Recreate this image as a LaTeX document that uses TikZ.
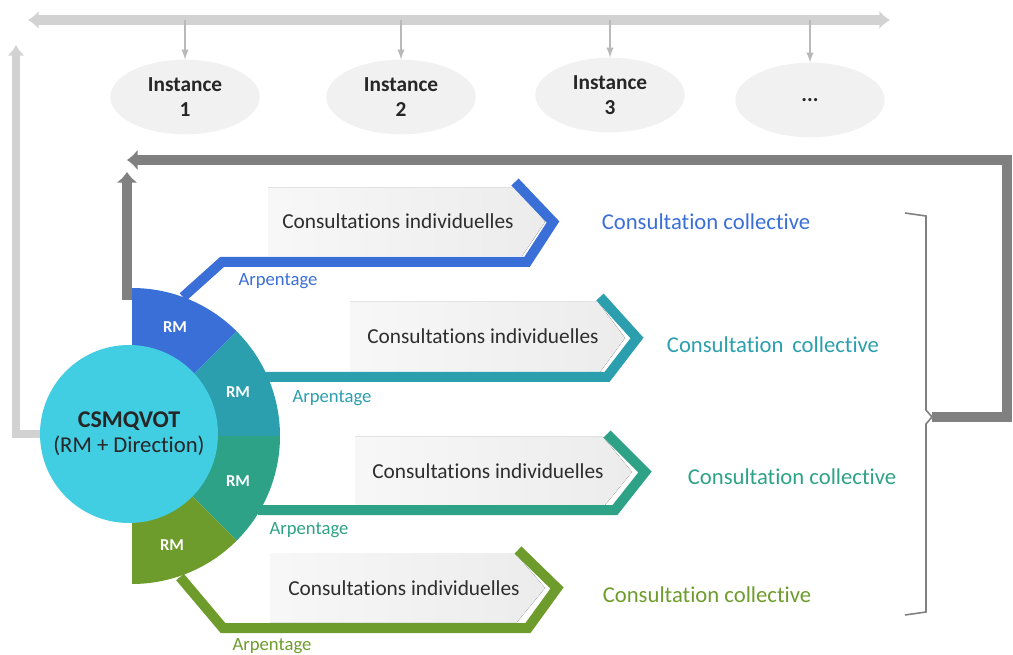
\documentclass[tikz,border=0pt]{standalone}
\usepackage{fontspec}
\setmainfont[Ligatures={NoCommon}]{Carlito}
\usetikzlibrary{positioning}
\usetikzlibrary{shapes.geometric}
\usetikzlibrary{arrows.meta}
\definecolor{lightbar}{HTML}{D2D2D2}
\definecolor{darkbar}{HTML}{808080}
\definecolor{csmcyan}{HTML}{41CDE2}
\definecolor{rmblue}{HTML}{3B6FD8}
\definecolor{rmteal}{HTML}{2B9FAE}
\definecolor{rmgreen}{HTML}{2EA287}
\definecolor{rmolive}{HTML}{6E9C2C}

\begin{document}
\begin{tikzpicture}[x=0.75pt, y=-0.75pt, style={align=center},
	inst/.style={ellipse, fill=gray!11, minimum width=112pt, minimum height=56pt, font=\fontsize{16}{19}\selectfont\bfseries, text=black!85},
	rmtext/.style={text=white, font=\fontsize{12.5}{15}\selectfont\bfseries},
	indiv/.style={text=black!82, font=\fontsize{16}{19}\selectfont},
	arp/.style={font=\fontsize{14}{16}\selectfont},
	coll/.style={font=\fontsize{17}{20}\selectfont},
	shadebox/.style={left color=gray!6, right color=gray!15},
	chev/.style={line width=7.5pt, miter limit=4},
	bar/.style={line width=7.5pt, -{Latex[length=8pt, width=16pt]}}]
	\useasboundingbox (0,0) rectangle (1013,655);

	% instances along the top
	\node[inst] (inst1) at (185,97) {Instance\\1};
	\node[inst] (inst2) at (401,97) {Instance\\2};
	\node[inst] (inst3) at (610,95) {Instance\\3};
	\node[inst] (inst4) at (810,100) {...};
	\coordinate (tl) at (28,20);
	\coordinate (tr) at (890,20);
	\draw[lightbar, line width=7.5pt, {Latex[length=8pt, width=14pt]}-{Latex[length=8pt, width=14pt]}] (tl) -- (tr);
	\foreach \i in {1,...,4}
		\draw[gray!55, line width=1.5pt, -latex] (inst\i.north |- tl) -- (inst\i.north);

	% feedback arrows
	\coordinate (brk) at (932,417);
	\coordinate (back) at (127,160);
	\coordinate (upl) at (16,45);
	\coordinate (fantop) at (127,300);
	\coordinate (upd) at (127,172);
	\draw[bar, darkbar] (brk) -- (1007,417) -- (1007,160) -- (back);
	\draw[bar, darkbar] (fantop) -- (upd);

	% gray boxes
	\fill[shadebox] (268,188) -- (520,188) -- (545,222) -- (522,256) -- (268,256) -- cycle;
	\fill[shadebox] (350,302) -- (598,302) -- (625,338) -- (600,372) -- (350,372) -- cycle;
	\fill[shadebox] (355,437) -- (603,437) -- (632,472) -- (605,505) -- (355,505) -- cycle;
	\fill[shadebox] (270,553) -- (515,553) -- (545,588) -- (517,622) -- (270,622) -- cycle;

	% chevron lines
	\draw[chev, rmblue] (183,297) -- (222,262) -- (527,262) -- (553,222) -- (515,182);
	\draw[chev, rmteal] (262,377) -- (607,377) -- (637,338) -- (600,297);
	\draw[chev, rmgreen] (258,510) -- (615,510) -- (645,472) -- (607,434);
	\draw[chev, rmolive] (180,577) -- (223,628) -- (528,628) -- (557,588) -- (518,550);

	% fan of RM
	\fill[rmblue] (132,436) -- +(-90:148) arc[start angle=-90, end angle=-45, radius=148] -- cycle;
	\fill[rmteal] (132,436) -- +(-45:148) arc[start angle=-45, end angle=0, radius=148] -- cycle;
	\fill[rmgreen] (132,436) -- +(0:148) arc[start angle=0, end angle=45, radius=148] -- cycle;
	\fill[rmolive] (132,436) -- +(45:148) arc[start angle=45, end angle=90, radius=148] -- cycle;
	\node[rmtext] (rm1) at (175,327) {RM};
	\node[rmtext] (rm2) at (238,392) {RM};
	\node[rmtext] (rm3) at (238,481) {RM};
	\node[rmtext] (rm4) at (172,545) {RM};

	% central circle
	\node[circle, fill=csmcyan, minimum size=133.5pt, inner sep=0pt, text=black!85] (csm) at (129,434)
		{{\fontsize{18}{21}\selectfont\bfseries CSMQVOT}\\[3pt]{\fontsize{17}{20}\selectfont (RM + Direction)}};
	\draw[lightbar, line width=6pt, -{Latex[length=8pt, width=13pt]}] (csm.west) -| (upl);

	% labels
	\node[indiv] (ci1) at (398,221) {Consultations individuelles};
	\node[indiv] (ci2) at (483,336) {Consultations individuelles};
	\node[indiv] (ci3) at (488,471) {Consultations individuelles};
	\node[indiv] (ci4) at (404,588) {Consultations individuelles};
	\node[arp, rmblue] (arp1) at (278,281) {Arpentage};
	\node[arp, rmteal] (arp2) at (332,398) {Arpentage};
	\node[arp, rmgreen] (arp3) at (309,530) {Arpentage};
	\node[arp, rmolive] (arp4) at (272,646) {Arpentage};
	\node[coll, rmblue] (cc1) at (706,222) {Consultation collective};
	\node[coll, rmteal] (cc2) at (773,345) {Consultation\ \,collective};
	\node[coll, rmgreen] (cc3) at (792,477) {Consultation collective};
	\node[coll, rmolive] (cc4) at (707,595) {Consultation collective};

	% bracket
	\draw[gray, line width=1.2pt] (905,213) -- (926,216) -- (926,410) -- (brk) -- (926,424) -- (926,612) -- (905,615);
\end{tikzpicture}
\end{document}
